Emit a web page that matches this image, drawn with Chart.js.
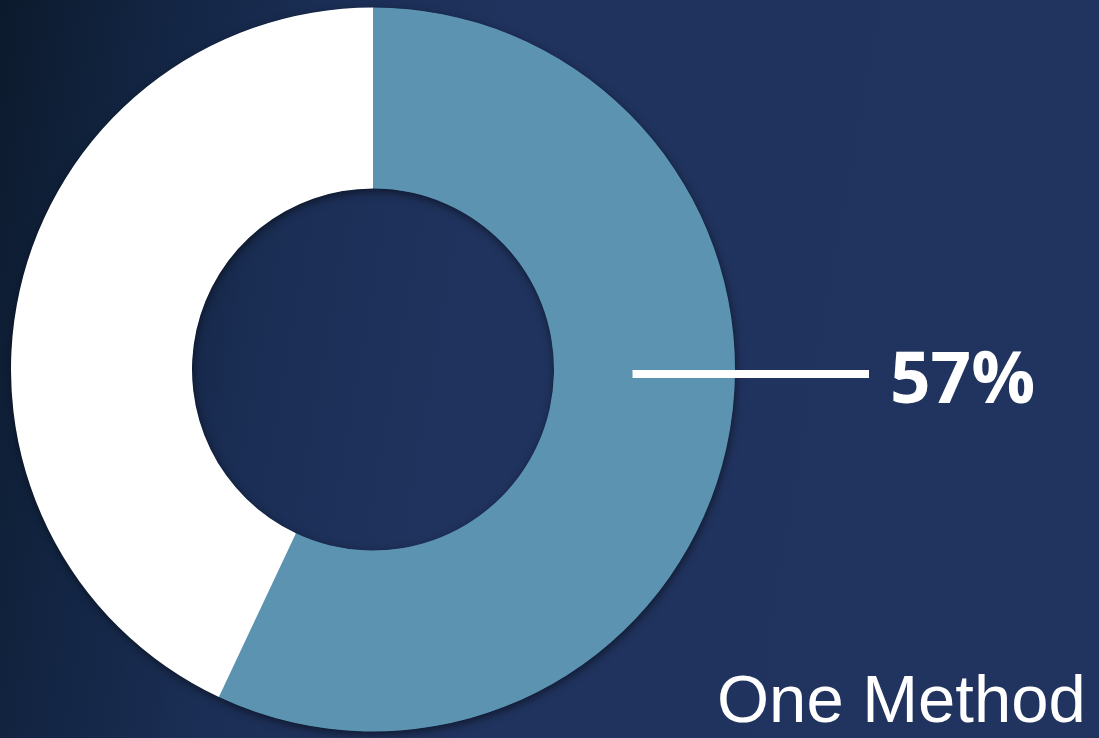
<!DOCTYPE html>
<html>
<head>
<meta charset="utf-8">
<script src="https://cdn.jsdelivr.net/npm/chart.js@4"></script>
<style>
  html, body { margin: 0; padding: 0; width: 1099px; height: 738px; overflow: hidden; }
  body { background: linear-gradient(100deg, #0c1a2c 0%, #122441 12%, #1b2e55 27%, #20335e 42%, #21345f 100%); }
  #wrap { position: relative; width: 1099px; height: 738px; }
</style>
</head>
<body>
<div id="wrap"><canvas id="c" width="1099" height="738"></canvas></div>
<script>
// Share of respondents using one method vs. the rest
const categories = ['One Method', 'Other'];
const values = [57, 43];
const colors = ['#5b93b1', '#ffffff'];
const caption = 'One Method';

// Soft drop shadow under the whole ring, painted once beneath the slices
const ringShadow = {
  id: 'ringShadow',
  beforeDatasetsDraw(chart) {
    const arc = chart.getDatasetMeta(0).data[0];
    const ctx = chart.ctx;
    ctx.save();
    ctx.shadowColor = 'rgba(0, 0, 0, 0.55)';
    ctx.shadowBlur = 10;
    ctx.shadowOffsetX = 1;
    ctx.shadowOffsetY = 3;
    ctx.fillStyle = colors[0];
    ctx.beginPath();
    ctx.arc(arc.x, arc.y, arc.outerRadius - 0.5, 0, Math.PI * 2);
    ctx.arc(arc.x, arc.y, arc.innerRadius + 0.5, 0, Math.PI * 2, true);
    ctx.closePath();
    ctx.fill();
    ctx.restore();
  }
};

// Leader line and percentage label for the first slice, plus caption
const calloutLabel = {
  id: 'calloutLabel',
  afterDraw(chart) {
    const ctx = chart.ctx;
    const arc = chart.getDatasetMeta(0).data[0];
    const cx = arc.x, cy = arc.y;
    const midR = (arc.innerRadius + arc.outerRadius) / 2;
    const total = values.reduce((a, b) => a + b, 0);
    const pct = Math.round(values[0] / total * 100) + '%';

    const y = cy + 4.5;
    const x0 = cx + midR - 12;
    const x1 = cx + arc.outerRadius + 134;
    ctx.save();
    ctx.fillStyle = '#ffffff';
    ctx.fillRect(x0, y - 4, x1 - x0, 8);

    ctx.font = 'bold 71px "Open Sans", "DejaVu Sans", sans-serif';
    ctx.textAlign = 'left';
    ctx.textBaseline = 'alphabetic';
    ctx.fillText(pct, x1 + 21, cy + 33);

    ctx.font = '67px "Liberation Sans", Arial, sans-serif';
    ctx.fillText(caption, 717, 722);
    ctx.restore();
  }
};

new Chart(document.getElementById('c'), {
  type: 'doughnut',
  data: {
    labels: categories,
    datasets: [{
      data: values,
      backgroundColor: colors,
      borderWidth: 0,
      hoverOffset: 0
    }]
  },
  options: {
    responsive: false,
    animation: false,
    radius: 362,
    cutout: 181,
    rotation: 0,
    layout: { padding: { left: 11, right: 364, top: 7, bottom: 6 } },
    plugins: {
      legend: { display: false },
      tooltip: { enabled: false }
    },
    events: []
  },
  plugins: [ringShadow, calloutLabel]
});
</script>
</body>
</html>
